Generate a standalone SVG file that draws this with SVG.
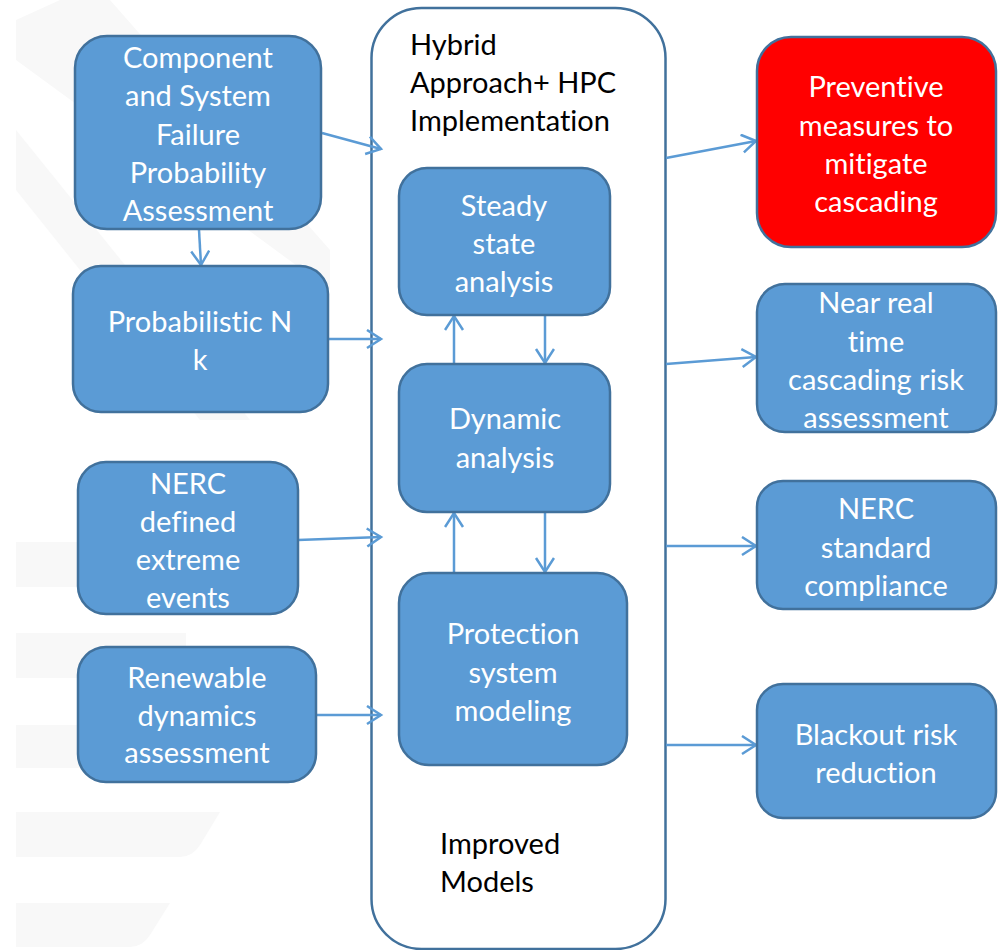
<svg xmlns="http://www.w3.org/2000/svg" width="1001" height="950" viewBox="0 0 1001 950">
<defs>
<style>
.box{fill:#5b9bd5;stroke:#41719c;stroke-width:2.5}
.red{fill:#ff0000;stroke:#41719c;stroke-width:2.5}
.cont{fill:#ffffff;stroke:#41719c;stroke-width:2.5}
.t{font-family:Lato,"Open Sans","Liberation Sans",sans-serif;font-size:29px;fill:#ffffff;text-anchor:middle;font-variant-ligatures:none}
.k{font-family:Lato,"Open Sans","Liberation Sans",sans-serif;font-size:29px;fill:#000000;font-variant-ligatures:none}
.c{stroke:#5b9bd5;stroke-width:2.5;fill:none;marker-end:url(#ah)}
.wm{fill:#f8f8f8}
</style>
<marker id="ah" markerWidth="20" markerHeight="22" refX="15" refY="10" orient="auto" markerUnits="userSpaceOnUse">
<path d="M1,1 L15,10 L1,19" fill="none" stroke="#5b9bd5" stroke-width="2.5"/>
</marker>
</defs>
<rect width="1001" height="950" fill="#ffffff"/>
<g id="watermark">
<polygon class="wm" points="16,20 60,0 110,0 330,250 330,290 16,60"/>
<polygon class="wm" points="16,130 250,420 200,420 16,190"/>
<rect class="wm" x="16" y="542" width="260" height="45"/>
<rect class="wm" x="16" y="633" width="170" height="45"/>
<rect class="wm" x="16" y="725" width="90" height="43"/>
<path class="wm" d="M16,812 H220 L200,845 Q192,857 180,857 H16 Z"/>
<path class="wm" d="M16,903 H170 L150,935 Q142,947 130,947 H16 Z"/>
</g>
<g id="container">
<rect class="cont" x="371.5" y="8" width="294" height="941" rx="50"/>
<text class="k" x="410" y="55">Hybrid</text>
<text class="k" x="410" y="93">Approach+ HPC</text>
<text class="k" x="410" y="131">Implementation</text>
<text class="k" x="440" y="854">Improved</text>
<text class="k" x="440" y="892">Models</text>
</g>
<g id="connectors">
<line class="c" x1="322" y1="133" x2="381" y2="149"/>
<line class="c" x1="199" y1="230" x2="201" y2="265"/>
<line class="c" x1="329" y1="339" x2="381" y2="339"/>
<line class="c" x1="298" y1="540" x2="381" y2="537"/>
<line class="c" x1="317" y1="715" x2="381" y2="715"/>
<line class="c" x1="454" y1="364" x2="454" y2="316"/>
<line class="c" x1="545" y1="316" x2="545" y2="363"/>
<line class="c" x1="454" y1="573" x2="454" y2="513"/>
<line class="c" x1="545" y1="513" x2="545" y2="572"/>
<line class="c" x1="666" y1="158" x2="756" y2="141"/>
<line class="c" x1="666" y1="364" x2="756" y2="357"/>
<line class="c" x1="666" y1="546" x2="756" y2="546"/>
<line class="c" x1="666" y1="745" x2="756" y2="745"/>
</g>
<g id="component">
<rect class="box" x="75" y="36" width="246" height="193" rx="32"/>
<text class="t" x="198" y="68">Component</text>
<text class="t" x="198" y="106">and System</text>
<text class="t" x="198" y="145">Failure</text>
<text class="t" x="198" y="183">Probability</text>
<text class="t" x="198" y="221">Assessment</text>
</g>
<g id="probabilistic">
<rect class="box" x="73" y="266" width="255" height="146" rx="28"/>
<text class="t" x="200" y="332">Probabilistic N</text>
<text class="t" x="200" y="370">k</text>
</g>
<g id="nerc-defined">
<rect class="box" x="78" y="462" width="220" height="152" rx="28"/>
<text class="t" x="188" y="494">NERC</text>
<text class="t" x="188" y="532">defined</text>
<text class="t" x="188" y="570">extreme</text>
<text class="t" x="188" y="608">events</text>
</g>
<g id="renewable">
<rect class="box" x="78" y="647" width="238" height="135" rx="28"/>
<text class="t" x="197" y="688">Renewable</text>
<text class="t" x="197" y="726">dynamics</text>
<text class="t" x="197" y="763">assessment</text>
</g>
<g id="steady">
<rect class="box" x="399" y="168" width="211" height="147" rx="28"/>
<text class="t" x="504" y="216">Steady</text>
<text class="t" x="504" y="254">state</text>
<text class="t" x="504" y="292">analysis</text>
</g>
<g id="dynamic">
<rect class="box" x="399" y="364" width="211" height="148" rx="28"/>
<text class="t" x="505" y="429">Dynamic</text>
<text class="t" x="505" y="468">analysis</text>
</g>
<g id="protection">
<rect class="box" x="399" y="573" width="228" height="192" rx="30"/>
<text class="t" x="513" y="644">Protection</text>
<text class="t" x="513" y="683">system</text>
<text class="t" x="513" y="721">modeling</text>
</g>
<g id="preventive">
<rect class="red" x="757" y="37" width="239" height="210" rx="34"/>
<text class="t" x="876" y="97">Preventive</text>
<text class="t" x="876" y="136">measures to</text>
<text class="t" x="876" y="174">mitigate</text>
<text class="t" x="876" y="212">cascading</text>
</g>
<g id="near-real-time">
<rect class="box" x="757" y="284" width="239" height="148" rx="28"/>
<text class="t" x="876" y="313">Near real</text>
<text class="t" x="876" y="352">time</text>
<text class="t" x="876" y="390">cascading risk</text>
<text class="t" x="876" y="428">assessment</text>
</g>
<g id="nerc-standard">
<rect class="box" x="757" y="481" width="239" height="128" rx="26"/>
<text class="t" x="876" y="519">NERC</text>
<text class="t" x="876" y="558">standard</text>
<text class="t" x="876" y="596">compliance</text>
</g>
<g id="blackout">
<rect class="box" x="757" y="684" width="239" height="134" rx="26"/>
<text class="t" x="876" y="745">Blackout risk</text>
<text class="t" x="876" y="783">reduction</text>
</g>
</svg>
